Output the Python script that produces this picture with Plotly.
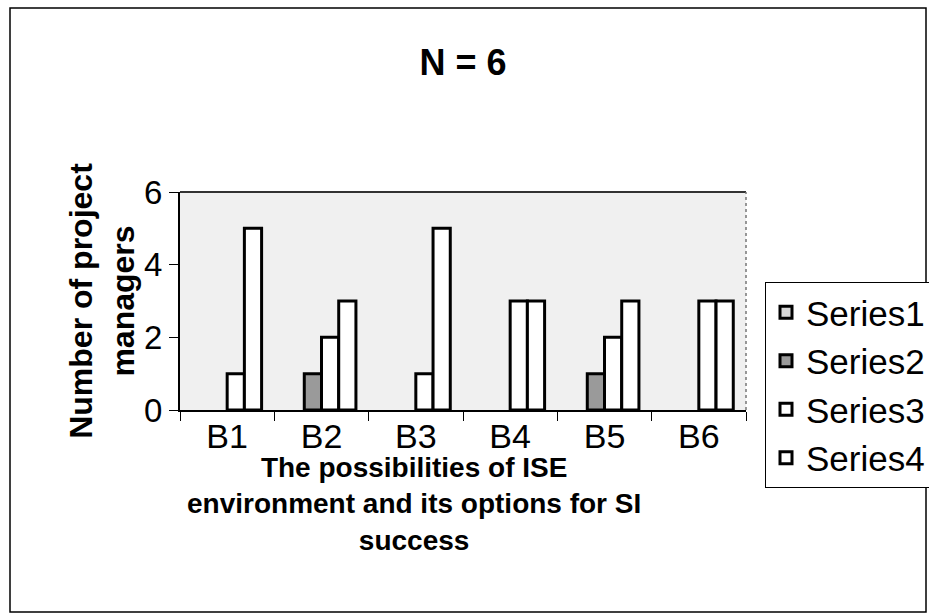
import plotly.graph_objects as go

categories = ["B1", "B2", "B3", "B4", "B5", "B6"]
series_names = ["Series1", "Series2", "Series3", "Series4"]
series1 = [0, 0, 0, 0, 0, 0]
series2 = [0, 1, 0, 0, 1, 0]
series3 = [1, 2, 1, 3, 2, 3]
series4 = [5, 3, 5, 3, 3, 3]
all_series = [series1, series2, series3, series4]
fills = ["#d8d8d8", "#9a9a9a", "#ffffff", "#ffffff"]

W, H = 929, 616
L, R, T, B = 180, 746, 192, 410

fig = go.Figure()
for name, vals, col in zip(series_names, all_series, fills):
    # zero-valued bars are not drawn (as in the original spreadsheet chart)
    fig.add_trace(go.Bar(
        x=categories, y=[v if v != 0 else None for v in vals], name=name,
        marker=dict(color=col, line=dict(color="black", width=3)),
    ))

pw, ph = R - L, B - T
def px(x):  # screen x -> paper
    return (x - L) / pw
def py(y):  # screen y -> paper
    return (B - y) / ph

fig.update_layout(
    width=W, height=H,
    margin=dict(l=L, r=W - R, t=T, b=H - B, autoexpand=False),
    paper_bgcolor="white",
    plot_bgcolor="#f0f0f0",
    barmode="group", bargap=0.27, bargroupgap=0,
    font=dict(family="Liberation Sans, Arial", color="black"),
    title=dict(text="<b>N = 6</b>", x=0.5, xref="paper", xanchor="center",
               y=1 - 62 / H, yanchor="middle",
               font=dict(size=36)),
    showlegend=True,
    legend=dict(x=px(765), y=py(282), xanchor="left", yanchor="top",
                bgcolor="white", bordercolor="black", borderwidth=1,
                font=dict(size=35), tracegroupgap=0, itemwidth=30),
    xaxis=dict(
        showline=True, linecolor="black", linewidth=2,
        ticks="outside", ticklen=9, tickwidth=1, tickcolor="black",
        tickson="boundaries", showgrid=False,
        tickfont=dict(size=34), ticklabelstandoff=-5,
    ),
    yaxis=dict(
        range=[0, 6], dtick=2, showline=True, linecolor="black", linewidth=2,
        ticks="outside", ticklen=9, tickwidth=1, tickcolor="black",
        showgrid=False, zeroline=False, tickfont=dict(size=33),
        title=dict(text="<b>Number of project<br>managers</b>", font=dict(size=32), standoff=0),
    ),
    annotations=[
        dict(text="<b>The possibilities of ISE<br>environment and its options for SI<br>success</b>",
             xref="paper", yref="paper", x=px(414), y=py(450), xanchor="center", yanchor="top",
             showarrow=False, font=dict(size=28), align="center"),
    ],
    shapes=[
        dict(type="rect", xref="paper", yref="paper",
             x0=px(10), x1=px(926), y0=py(612), y1=py(8),
             line=dict(color="black", width=1.5), layer="below"),
        dict(type="line", xref="paper", yref="paper", x0=0, x1=1, y0=1, y1=1,
             line=dict(color="#333333", width=2)),
        dict(type="line", xref="paper", yref="paper", x0=1, x1=1, y0=0, y1=1,
             line=dict(color="#777777", width=1.5, dash="dot")),
    ],
)

fig.write_html("out.html", config={"displayModeBar": False},
               post_script="document.body.style.margin='0';document.body.style.overflow='hidden';")
